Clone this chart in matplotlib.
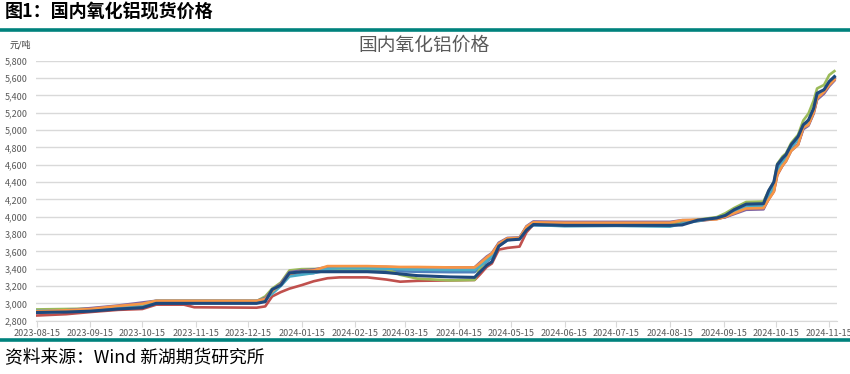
import matplotlib.pyplot as plt
import matplotlib.dates as mdates
import numpy as np
import pandas as pd

plt.rcParams['font.family'] = ['Noto Sans CJK SC', 'DejaVu Sans']

# 日期
dates = pd.to_datetime([
    "2023-08-15", "2023-09-01", "2023-09-15", "2023-10-01", "2023-10-15", "2023-10-23",
    "2023-11-08", "2023-11-14", "2023-12-20", "2023-12-25", "2023-12-29", "2024-01-03",
    "2024-01-08", "2024-01-15", "2024-01-22", "2024-01-30", "2024-02-06", "2024-02-22",
    "2024-03-04", "2024-03-12", "2024-03-22", "2024-04-10", "2024-04-24", "2024-04-27",
    "2024-05-01", "2024-05-04", "2024-05-08", "2024-05-13", "2024-05-20", "2024-05-24",
    "2024-05-28", "2024-06-15", "2024-07-15", "2024-08-15", "2024-08-22", "2024-08-31",
    "2024-09-11", "2024-09-16", "2024-09-21", "2024-09-28", "2024-10-08", "2024-10-11",
    "2024-10-14", "2024-10-16", "2024-10-19", "2024-10-21", "2024-10-24", "2024-10-28",
    "2024-10-31", "2024-11-03", "2024-11-06", "2024-11-08", "2024-11-12", "2024-11-15",
    "2024-11-18",
])

# 各地区现货价格 (元/吨)
blue = [2900, 2905, 2915, 2945, 2970, 3015, 3015, 3015, 3015, 3040, 3130, 3220,
        3320, 3340, 3350, 3380, 3380, 3380, 3375, 3370, 3365, 3360, 3360, 3420,
        3480, 3530, 3660, 3730, 3745, 3860, 3900, 3895, 3895, 3895, 3930, 3955,
        3980, 4000, 4050, 4110, 4120, 4260, 4360, 4560, 4650, 4700, 4810, 4900,
        5040, 5100, 5240, 5410, 5450, 5545, 5605]
red = [2860, 2875, 2900, 2925, 2935, 2985, 2985, 2955, 2950, 2965, 3080, 3130,
       3170, 3210, 3255, 3290, 3300, 3300, 3275, 3250, 3260, 3265, 3270, 3330,
       3420, 3460, 3620, 3640, 3655, 3820, 3910, 3915, 3915, 3915, 3945, 3950,
       3975, 3995, 4040, 4090, 4095, 4200, 4290, 4480, 4590, 4650, 4770, 4840,
       5020, 5060, 5200, 5360, 5430, 5520, 5600]
green = [2930, 2935, 2940, 2965, 2985, 3025, 3025, 3025, 3025, 3080, 3170, 3240,
         3380, 3395, 3397, 3397, 3397, 3397, 3395, 3330, 3285, 3265, 3270, 3400,
         3510, 3560, 3690, 3750, 3755, 3880, 3925, 3920, 3920, 3920, 3950, 3965,
         3995, 4040, 4100, 4170, 4175, 4300, 4400, 4610, 4695, 4730, 4850, 4945,
         5110, 5190, 5340, 5480, 5520, 5635, 5680]
purple = [2890, 2920, 2945, 2975, 3010, 3030, 3030, 3030, 3030, 3060, 3150, 3230,
          3360, 3380, 3390, 3420, 3420, 3420, 3420, 3415, 3415, 3415, 3415, 3470,
          3540, 3580, 3700, 3755, 3760, 3890, 3945, 3940, 3940, 3940, 3960, 3960,
          3980, 3995, 4030, 4080, 4085, 4210, 4300, 4500, 4590, 4640, 4760, 4830,
          5010, 5050, 5190, 5350, 5420, 5505, 5570]
aqua = [2915, 2920, 2930, 2960, 2990, 3030, 3030, 3030, 3030, 3050, 3110, 3200,
        3310, 3330, 3350, 3400, 3405, 3405, 3400, 3395, 3390, 3385, 3385, 3430,
        3490, 3540, 3670, 3735, 3745, 3870, 3905, 3890, 3895, 3885, 3920, 3950,
        3985, 4010, 4060, 4120, 4125, 4250, 4340, 4520, 4620, 4680, 4800, 4890,
        5030, 5100, 5230, 5400, 5460, 5550, 5620]
orange = [2910, 2920, 2935, 2970, 2995, 3030, 3030, 3030, 3030, 3050, 3140, 3220,
          3340, 3370, 3380, 3430, 3430, 3430, 3425, 3420, 3420, 3415, 3415, 3460,
          3530, 3575, 3690, 3750, 3755, 3885, 3935, 3930, 3930, 3930, 3960, 3965,
          3970, 4000, 4040, 4095, 4100, 4200, 4290, 4490, 4590, 4640, 4760, 4830,
          5030, 5060, 5200, 5365, 5440, 5520, 5580]
navy = [2895, 2900, 2910, 2935, 2950, 3000, 3000, 3000, 3000, 3020, 3160, 3210,
        3350, 3365, 3365, 3365, 3365, 3365, 3355, 3340, 3320, 3305, 3300, 3360,
        3440, 3480, 3660, 3730, 3740, 3845, 3910, 3900, 3900, 3900, 3905, 3960,
        3985, 4015, 4080, 4145, 4150, 4300, 4400, 4600, 4675, 4715, 4830, 4925,
        5060, 5115, 5250, 5425, 5465, 5560, 5615]

series = [blue, red, green, purple, aqua, orange, navy]
colors = ["#4F81BD", "#C0504D", "#9BBB59", "#8064A2", "#4BACC6", "#F79646", "#1F497D"]

# 横轴刻度：每月15日
tick_dates = pd.to_datetime([f"{y}-{m:02d}-15" for y, m in
                             [(2023, m) for m in range(8, 13)] + [(2024, m) for m in range(1, 12)]])

W, H = 850, 374
fig = plt.figure(figsize=(W / 100, H / 100), dpi=100)
ax = fig.add_axes([36 / W, 1 - 320.7 / H, (837 - 36) / W, 260 / H])

for vals, c in zip(series, colors):
    lw = 2.2 if c == "#1F497D" else 1.9
    ax.plot(dates, vals, color=c, lw=lw, solid_joinstyle='round')

ax.set_ylim(2800, 5800)
ax.set_yticks(np.arange(2800, 5801, 200))
ax.yaxis.set_major_formatter(plt.FuncFormatter(lambda v, p: f"{int(v):,}"))
ax.set_xlim(pd.Timestamp("2023-08-14 12:00"), pd.Timestamp("2024-11-19 12:00"))
ax.set_xticks(tick_dates)
ax.xaxis.set_major_formatter(mdates.DateFormatter("%Y-%m-%d"))

ax.grid(axis='y', color='#D9D9D9', lw=1)
ax.set_axisbelow(True)
for s in ['top', 'right', 'left']:
    ax.spines[s].set_visible(False)
ax.spines['bottom'].set_color('#D9D9D9')
ax.tick_params(axis='y', length=0, labelsize=6.5, labelcolor='#595959', pad=6)
ax.tick_params(axis='x', length=4, color='#D9D9D9', labelsize=6.5, labelcolor='#595959', pad=2)

# 标题和注释
fig.text(5 / W, 1 - 12 / H, "图1：国内氧化铝现货价格", fontsize=13, fontweight='heavy',
         ha='left', va='center', color='black')
fig.add_artist(plt.Line2D([0, 1], [1 - 29.5 / H, 1 - 29.5 / H], color='#00827D', lw=2.6))
fig.text(10 / W, 1 - 45 / H, "元/吨", fontsize=6.5, ha='left', va='center', color='#404040')
fig.text(424 / W, 1 - 45 / H, "国内氧化铝价格", fontsize=13.5, ha='center', va='center', color='#595959')
fig.add_artist(plt.Line2D([0, 1], [1 - 340 / H, 1 - 340 / H], color='#00827D', lw=2.6))
fig.text(5 / W, 1 - 358 / H, "资料来源：Wind 新湖期货研究所", fontsize=12.8,
         ha='left', va='center', color='black')

fig.savefig("out.png", dpi=100)
